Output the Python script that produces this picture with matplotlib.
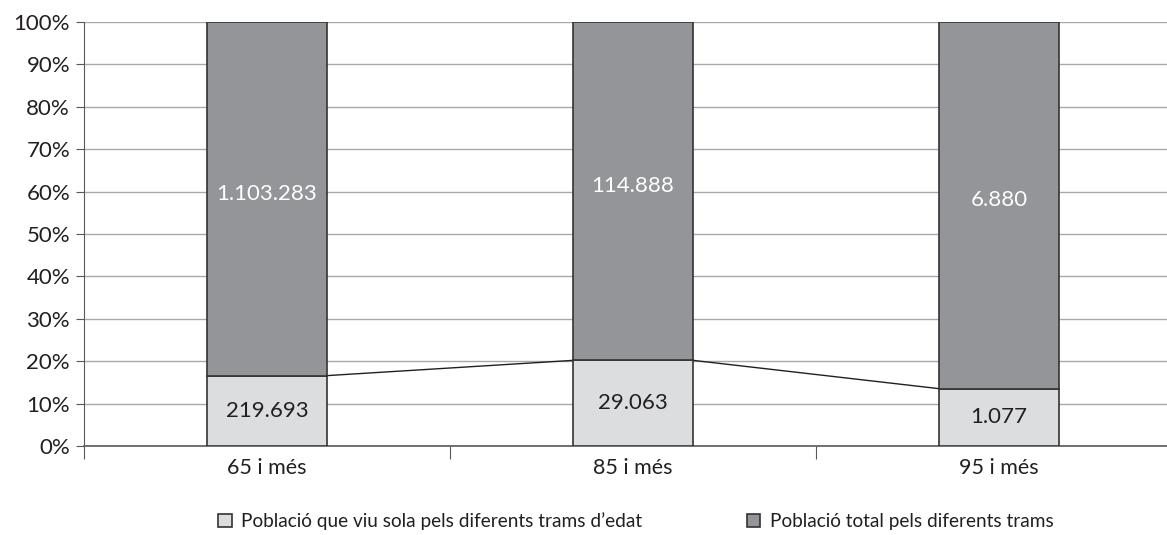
import numpy as np
import matplotlib.pyplot as plt

categories = ['65 i més', '85 i més', '95 i més']
sola = [219693, 29063, 1077]
resta = [1103283, 114888, 6880]
sola_labels = ['219.693', '29.063', '1.077']
resta_labels = ['1.103.283', '114.888', '6.880']
legend_labels = ["Població que viu sola pels diferents trams d’edat",
                 'Població total pels diferents trams']

plt.rcParams['font.family'] = ['Lato', 'DejaVu Sans']

sola = np.asarray(sola, dtype=float)
resta = np.asarray(resta, dtype=float)
tot = sola + resta
p_sola = sola / tot * 100
p_resta = resta / tot * 100
x = np.arange(len(categories))
w = 0.33

fig = plt.figure(figsize=(11.67, 5.35), dpi=100)
ax = fig.add_axes([84 / 1167, 1 - 446 / 535, (1182 - 84) / 1167, (446 - 22) / 535])

light = '#dcdddf'
dark = '#939598'
b1 = ax.bar(x, p_sola, w, color=light, edgecolor='#333333', linewidth=1.2, zorder=3)
b2 = ax.bar(x, p_resta, w, bottom=p_sola, color=dark, edgecolor='#333333',
            linewidth=1.2, zorder=3)

# series lines between the bars
for i in range(len(x) - 1):
    ax.plot([x[i] + w / 2, x[i + 1] - w / 2], [p_sola[i], p_sola[i + 1]],
            color='#231f20', lw=1, zorder=2)

for i in range(len(x)):
    ax.text(x[i], p_sola[i] / 2, sola_labels[i], ha='center', va='center',
            fontsize=16, color='#231f20', zorder=4)
    ax.text(x[i], p_sola[i] + p_resta[i] / 2 + 1.2, resta_labels[i], ha='center',
            va='center', fontsize=16, color='white', zorder=4)

ax.set_xlim(-0.5, 2.5)
ax.set_ylim(0, 100)
ax.set_yticks(np.arange(0, 101, 10))
ax.set_yticklabels(['%d%%' % v for v in range(0, 101, 10)], fontsize=16,
                   color='#231f20')
ax.yaxis.grid(True, color='#a7a9ac', lw=1)
ax.set_axisbelow(True)

ax.set_xticks([-0.5, 0.5, 1.5])
ax.set_xticklabels([])
ax.set_xticks(x, minor=True)
ax.set_xticklabels(categories, minor=True, fontsize=15.5, color='#231f20')
ax.tick_params(axis='x', which='major', length=9, color='#58595b')
ax.tick_params(axis='x', which='minor', length=0, pad=9)
ax.tick_params(axis='y', length=6, color='#58595b', pad=4)

for s in ['top', 'right']:
    ax.spines[s].set_visible(False)
ax.spines['left'].set_color('#58595b')
ax.spines['bottom'].set_color('#58595b')
ax.spines['bottom'].set_linewidth(1.2)

handles = [b1[0], b2[0]]
fig.legend(handles, legend_labels, loc='center', bbox_to_anchor=(0.545, 0.026),
           ncol=2, frameon=False, fontsize=13.7, handlelength=0.7, handleheight=0.7,
           columnspacing=5.5, handletextpad=0.5, labelcolor='#231f20')

fig.savefig('out.png', dpi=100)
